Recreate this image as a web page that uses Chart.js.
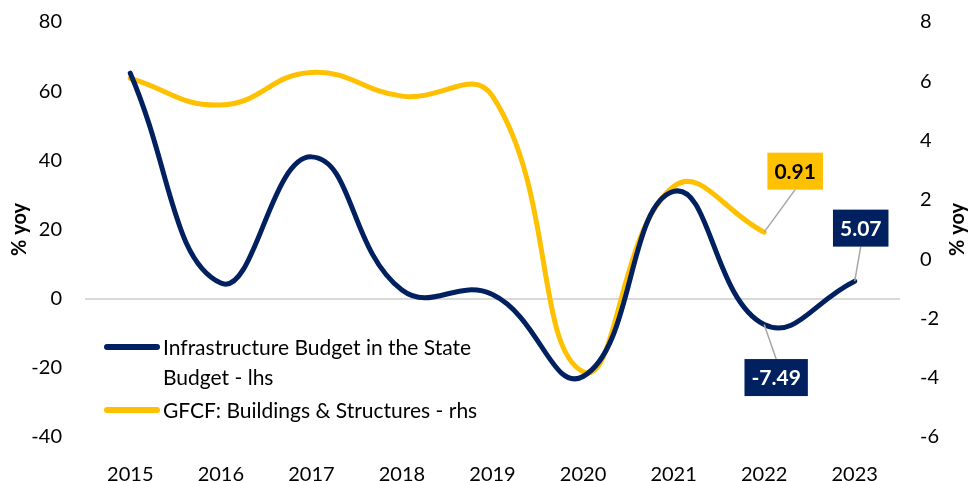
<!DOCTYPE html>
<html lang="en">
<head>
<meta charset="UTF-8">
<title>Infrastructure Budget vs GFCF</title>
<script src="https://cdn.jsdelivr.net/npm/chart.js"></script>
<style>
    body { margin: 0; background: #fff; }
    #wrap { position: relative; width: 978px; height: 481px; font-family: Lato, "Open Sans", sans-serif; }
    #legend { position: absolute; left: 104px; top: 332px; font-size: 21px; line-height: 30px; color: #000; }
    .item { position: relative; padding-left: 59px; }
    .swatch { position: absolute; left: 0; top: 12px; width: 56px; height: 6px; border-radius: 3px; }
</style>
</head>
<body>
<div id="wrap">
    <canvas id="chart" width="978" height="481"></canvas>
    <div id="legend">
        <div class="item" style="margin-bottom:3px"><span class="swatch" style="background:#002060"></span>Infrastructure Budget in the State<br>Budget - lhs</div>
        <div class="item"><span class="swatch" style="background:#FFC000"></span>GFCF: Buildings &amp; Structures - rhs</div>
    </div>
</div>
<script>
    // data
    const years = ['2015', '2016', '2017', '2018', '2019', '2020', '2021', '2022', '2023'];
    const infraBudget = [65.2, 4.5, 41, 2.5, 1.2, -22.5, 31, -7.49, 5.07];      // lhs
    const gfcfBuildings = [6.1, 5.2, 6.3, 5.5, 5.5, -3.8, 2.45, 0.91, null];     // rhs

    const navy = '#002060';
    const gold = '#FFC000';
    const tickFont = { family: 'Lato, "Open Sans", sans-serif', size: 20 };

    // boxed value labels with leader lines
    const valueLabels = {
        id: 'valueLabels',
        afterDatasetsDraw(chart, args, opts) {
            const ctx = chart.ctx;
            opts.items.forEach(it => {
                const pt = chart.getDatasetMeta(it.ds).data[it.idx];
                const value = chart.data.datasets[it.ds].data[it.idx];
                const text = value.toFixed(2);
                ctx.save();
                ctx.font = 'bold 21px Lato, "Open Sans", sans-serif';
                const w = ctx.measureText(text).width + 14;
                const h = 37;
                const cx = pt.x + it.dx, cy = pt.y + it.dy;
                // leader line to nearest horizontal edge
                const ey = it.dy < 0 ? cy + h / 2 : cy - h / 2;
                ctx.strokeStyle = '#a6a6a6';
                ctx.lineWidth = 1.5;
                ctx.beginPath();
                ctx.moveTo(pt.x, pt.y);
                ctx.lineTo(cx, ey);
                ctx.stroke();
                ctx.fillStyle = it.bg;
                ctx.fillRect(cx - w / 2, cy - h / 2, w, h);
                ctx.fillStyle = it.color;
                ctx.textAlign = 'center';
                ctx.textBaseline = 'middle';
                ctx.fillText(text, cx, cy + 1);
                ctx.restore();
            });
        }
    };

    // "% yoy" on both sides, both reading bottom to top
    const axisTitles = {
        id: 'axisTitles',
        afterDraw(chart) {
            const ctx = chart.ctx;
            const a = chart.chartArea;
            const midY = (a.top + a.bottom) / 2;
            ctx.save();
            ctx.font = 'bold 20px Lato, "Open Sans", sans-serif';
            ctx.fillStyle = '#000';
            ctx.textAlign = 'center';
            ctx.textBaseline = 'middle';
            [20, 958].forEach(x => {
                ctx.save();
                ctx.translate(x, midY);
                ctx.rotate(-Math.PI / 2);
                ctx.fillText('% yoy', 0, 0);
                ctx.restore();
            });
            ctx.restore();
        }
    };

    new Chart(document.getElementById('chart'), {
        type: 'line',
        data: {
            labels: years,
            datasets: [
                {
                    label: 'Infrastructure Budget in the State Budget - lhs',
                    data: infraBudget,
                    yAxisID: 'y',
                    borderColor: navy,
                    borderWidth: 5,
                    tension: 0.45,
                    pointRadius: 0,
                    borderCapStyle: 'round',
                    fill: false
                },
                {
                    label: 'GFCF: Buildings & Structures - rhs',
                    data: gfcfBuildings,
                    yAxisID: 'y1',
                    borderColor: gold,
                    borderWidth: 5,
                    tension: 0.45,
                    pointRadius: 0,
                    borderCapStyle: 'round',
                    fill: false
                }
            ]
        },
        options: {
            responsive: false,
            animation: false,
            layout: { padding: { top: 22, bottom: 0, left: 0, right: 0 } },
            plugins: {
                legend: { display: false },
                tooltip: { enabled: false },
                valueLabels: {
                    items: [
                        { ds: 1, idx: 7, dx: 31, dy: -61, bg: gold, color: '#000' },
                        { ds: 0, idx: 8, dx: 6, dy: -53, bg: navy, color: '#fff' },
                        { ds: 0, idx: 7, dx: 12, dy: 53, bg: navy, color: '#fff' }
                    ]
                }
            },
            scales: {
                x: {
                    offset: true,
                    grid: { display: false },
                    border: { display: false },
                    ticks: { font: tickFont, color: '#000', padding: 18, maxRotation: 0 },
                    afterFit(s) { s.height = 44; }
                },
                y: {
                    position: 'left',
                    min: -40,
                    max: 80,
                    ticks: { stepSize: 20, font: tickFont, color: '#000', padding: 0 },
                    border: { display: false },
                    grid: {
                        drawTicks: true,
                        tickLength: 23,
                        tickColor: 'rgba(0,0,0,0)',
                        lineWidth: 2,
                        color: c => c.tick && c.tick.value === 0 ? '#d9d9d9' : 'rgba(0,0,0,0)'
                    },
                    afterFit(s) { s.width = 85; }
                },
                y1: {
                    position: 'right',
                    min: -6,
                    max: 8,
                    ticks: { stepSize: 2, font: tickFont, color: '#000', padding: 0 },
                    border: { display: false },
                    grid: { drawOnChartArea: false, drawTicks: true, tickLength: 20, tickColor: 'rgba(0,0,0,0)' },
                    afterFit(s) { s.width = 78; }
                }
            }
        },
        plugins: [valueLabels, axisTitles]
    });
</script>
</body>
</html>
